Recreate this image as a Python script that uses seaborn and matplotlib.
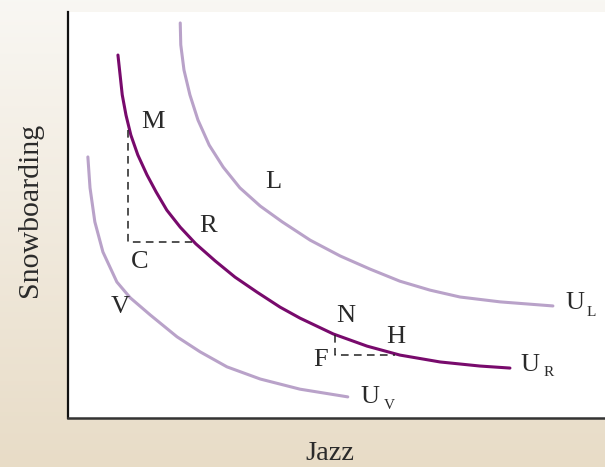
import numpy as np
import pandas as pd
import matplotlib
matplotlib.use("Agg")
import matplotlib.pyplot as plt
import seaborn as sns

# indifference curves (Jazz, Snowboarding)
ur_x = [9.3, 9.7, 10.1, 10.8, 11.7, 13.0, 14.7, 16.4, 18.4, 20.9, 23.8, 27.4,
        31.1, 35.2, 39.5, 43.2, 49.4, 55.7, 61.8, 69.3, 76.7, 82.3]
ur_y = [89.4, 84.5, 79.6, 74.6, 69.7, 64.8, 59.9, 55.7, 51.2, 47.0, 42.9, 38.7,
        34.7, 31.0, 27.3, 24.6, 20.7, 17.7, 15.5, 13.8, 12.8, 12.3]

ul_x = [20.9, 21.0, 21.6, 22.7, 24.2, 26.3, 28.9, 32.0, 35.8, 39.9, 45.1, 50.7,
        56.2, 61.8, 67.4, 73.0, 80.5, 90.3]
ul_y = [97.3, 91.9, 85.7, 79.6, 73.4, 67.2, 61.8, 56.7, 52.2, 48.3, 43.8, 39.9,
        36.7, 33.7, 31.5, 29.8, 28.6, 27.6]

uv_x = [3.7, 4.1, 5.0, 6.5, 9.1, 11.6, 15.3, 20.3, 24.6, 29.6, 35.8, 43.2, 52.1]
uv_y = [64.3, 56.7, 48.3, 40.9, 33.5, 29.6, 25.4, 20.0, 16.3, 12.6, 9.6, 7.1, 5.2]

# dashed step lines: M -> C -> R and N -> F -> H
mcr_x = [11.2, 11.2, 23.0]
mcr_y = [70.9, 43.4, 43.4]
nfh_x = [49.7, 49.7, 60.9]
nfh_y = [20.4, 15.5, 15.5]

# point labels
pt_names = ["M", "C", "R", "V", "L", "N", "H", "F"]
pt_x = [15.8, 13.4, 26.1, 9.7, 38.2, 51.8, 61.1, 47.1]
pt_y = [72.9, 38.4, 47.3, 27.3, 58.1, 25.1, 20.0, 14.3]

# curve labels (main letter + subscript)
cv_main = ["U", "U", "U"]
cv_sub = ["L", "R", "V"]
cv_x = [94.4, 86.0, 56.2]
cv_y = [28.3, 13.1, 5.2]
cv_sx = [96.5, 88.6, 58.9]
cv_sy = [25.9, 11.1, 3.0]

dark = "#780a6c"
light = "#b9a2c9"

sns.set_style("white")
plt.rcParams["font.family"] = ["Liberation Serif", "DejaVu Serif"]

fig = plt.figure(figsize=(6.05, 4.67), dpi=100)

# beige gradient background
bg = fig.add_axes([0, 0, 1, 1], zorder=0)
grad = np.linspace(0, 1, 256).reshape(-1, 1)
top = np.array([0.976, 0.969, 0.953])
bot = np.array([0.910, 0.863, 0.780])
img = top + (bot - top) * grad[:, :, None]
bg.imshow(img, aspect="auto", extent=[0, 1, 0, 1])
bg.axis("off")

ax = fig.add_axes([68 / 605, 49 / 467, 537 / 605, 406 / 467], zorder=1)
ax.set_facecolor("white")

curves = pd.concat([
    pd.DataFrame({"x": ul_x, "y": ul_y, "curve": "UL"}),
    pd.DataFrame({"x": ur_x, "y": ur_y, "curve": "UR"}),
    pd.DataFrame({"x": uv_x, "y": uv_y, "curve": "UV"}),
])
sns.lineplot(data=curves, x="x", y="y", hue="curve", sort=False,
             palette={"UL": light, "UR": dark, "UV": light},
             linewidth=2.2, legend=False, ax=ax, estimator=None)

ax.plot(mcr_x, mcr_y, color="#222222", lw=1.1, ls=(0, (5, 3.5)))
ax.plot(nfh_x, nfh_y, color="#222222", lw=1.1, ls=(0, (5, 3.5)))

for n, x, y in zip(pt_names, pt_x, pt_y):
    ax.text(x, y, n, fontsize=19, color="#2a2a2a", ha="center", va="center")
for m, s, x, y, sx, sy in zip(cv_main, cv_sub, cv_x, cv_y, cv_sx, cv_sy):
    ax.text(x, y, m, fontsize=19, color="#2a2a2a", ha="center", va="center")
    ax.text(sx, sy, s, fontsize=11, color="#2a2a2a", ha="left", va="center")

ax.set_xlim(0, 100)
ax.set_ylim(0, 100)
ax.set_xticks([])
ax.set_yticks([])
ax.set_xlabel("")
ax.set_ylabel("")
for side in ["top", "right"]:
    ax.spines[side].set_visible(False)
ax.spines["left"].set_color("#111111")
ax.spines["left"].set_linewidth(1.6)
ax.spines["bottom"].set_color("#333333")
ax.spines["bottom"].set_linewidth(1.8)

fig.text(330 / 605, 1 - 453 / 467, "Jazz", fontsize=20.5, color="#2a2a2a",
         ha="center", va="center")
fig.text(30 / 605, 1 - 210 / 467, "Snowboarding", fontsize=21.5, color="#2a2a2a",
         ha="center", va="center", rotation=90)

fig.savefig("out.png", dpi=100)
